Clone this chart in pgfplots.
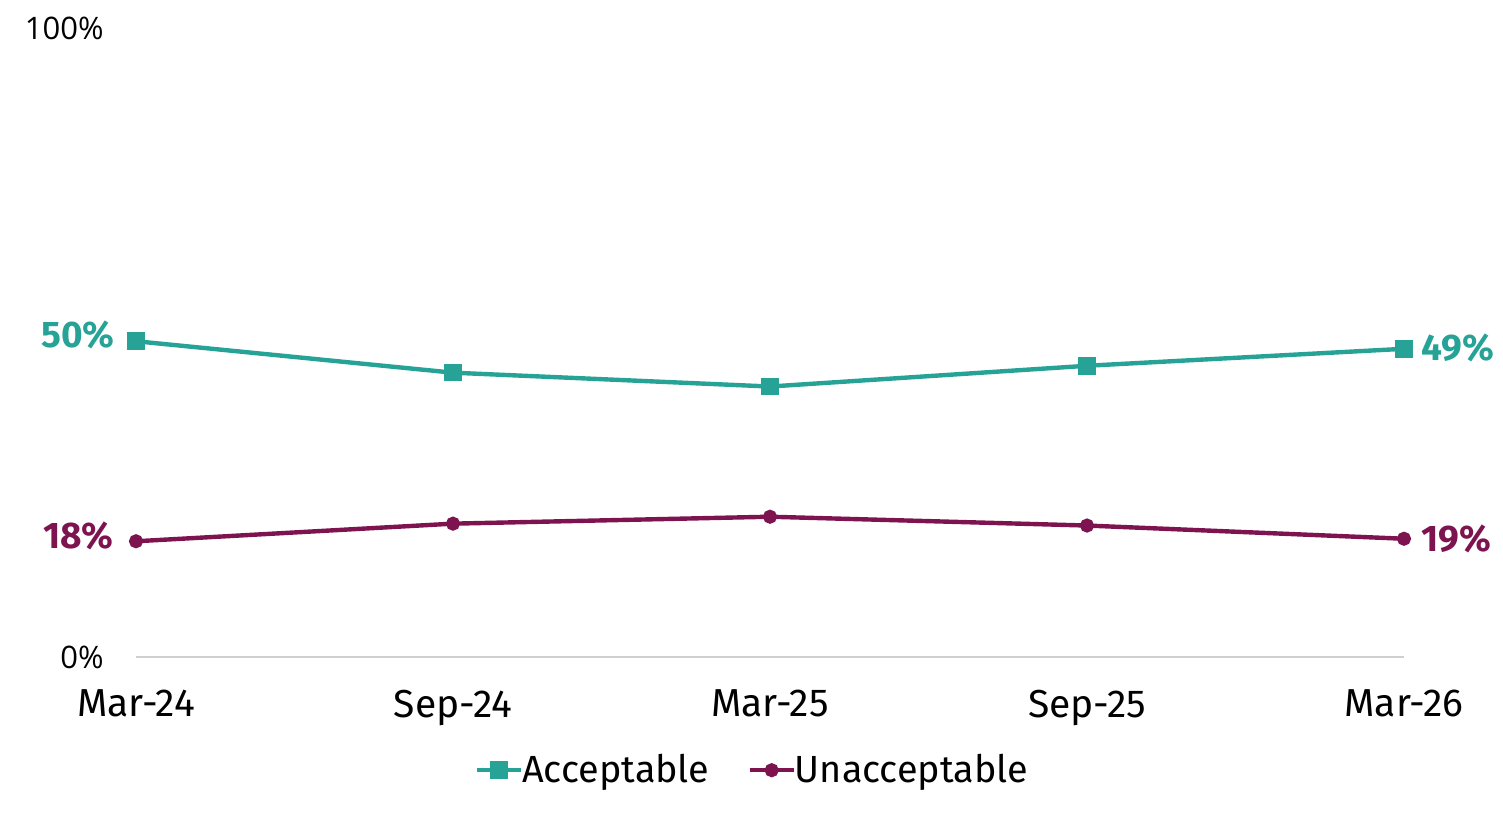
\documentclass[border=0pt]{standalone}
\usepackage{pgfplots}
\pgfplotsset{compat=1.18}
\usepackage{fontspec}
\setmainfont{Fira Sans}
\newfontfamily\tickfont{Open Sans}
\definecolor{teal}{HTML}{26A396}
\definecolor{plum}{HTML}{7D1450}
\definecolor{axgray}{HTML}{D0D0D0}
\begin{document}
\begin{tikzpicture}[x=0.5pt,y=0.5pt]
\begin{axis}[name=a,
  at={(0,0)}, anchor=south west,
  scale only axis,
  width=634pt, height=314.5pt,
  xmin=0, xmax=4, ymin=0, ymax=100,
  axis y line=none,
  axis x line*=bottom,
  x axis line style={draw=axgray, line width=1pt, -},
  xtick={0,1,2,3,4},
  xticklabels={Mar-24,Sep-24,Mar-25,Sep-25,Mar-26},
  major tick length=0pt,
  xticklabel style={font=\fontsize{19.5}{22}\selectfont, yshift=-13pt},
  clip=false,
  legend style={at={(0.487,-0.18)}, anchor=center, draw=none, fill=none,
    font=\fontsize{18.9}{22}\selectfont, legend columns=2,
    /tikz/every even column/.append style={column sep=17pt},
    inner sep=0pt},
  legend image code/.code={
    \draw[mark repeat=2,mark phase=2] plot coordinates {(0pt,0pt)(11pt,0pt)(22pt,0pt)};},
  legend cell align=left,
]
\addplot[teal, line width=2.2pt, mark=square*, mark size=3.3pt, mark options={solid}]
  coordinates {(0,50.2) (1,45.2) (2,43.0) (3,46.3) (4,49.0)};
\addlegendentry{\hspace{-2.5pt}Acceptable}
\addplot[plum, line width=2.2pt, mark=*, mark size=2.4pt]
  coordinates {(0,18.4) (1,21.2) (2,22.3) (3,20.9) (4,18.8)};
\addlegendentry{\hspace{-2.5pt}Unacceptable}
\node[anchor=east, text=teal, font=\fontsize{18.5}{20}\selectfont\bfseries, inner sep=0pt] at (axis cs:0,51.2) [xshift=-10.5pt] {50\%};
\node[anchor=west, text=teal, font=\fontsize{18.5}{20}\selectfont\bfseries, inner sep=0pt] at (axis cs:4,49.2) [xshift=8.5pt] {49\%};
\node[anchor=east, text=plum, font=\fontsize{18.5}{20}\selectfont\bfseries, inner sep=0pt] at (axis cs:0,19.2) [xshift=-11pt] {18\%};
\node[anchor=west, text=plum, font=\fontsize{18.5}{20}\selectfont\bfseries, inner sep=0pt] at (axis cs:4,18.7) [xshift=8.5pt] {19\%};
\node[anchor=east, font=\tickfont\fontsize{15.5}{18}\selectfont, inner sep=0pt] at (axis cs:0,0) [xshift=-16pt] {0\%};
\node[anchor=east, font=\tickfont\fontsize{15.5}{18}\selectfont, inner sep=0pt] at (axis cs:0,100) [xshift=-16pt] {100\%};
\end{axis}
\pgfresetboundingbox
\path[use as bounding box] (-136,-156) rectangle ++(1503,813);
\end{tikzpicture}
\end{document}
